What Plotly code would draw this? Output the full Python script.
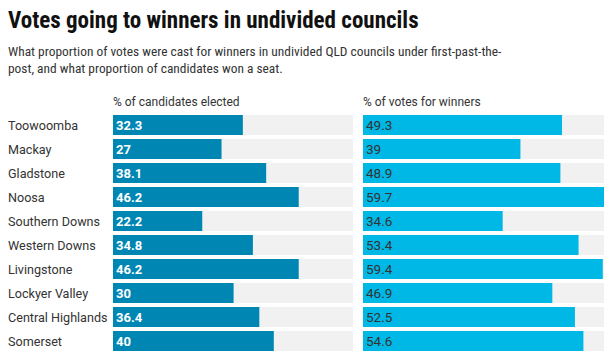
import plotly.graph_objects as go

councils = ["Toowoomba", "Mackay", "Gladstone", "Noosa", "Southern Downs",
            "Western Downs", "Livingstone", "Lockyer Valley", "Central Highlands", "Somerset"]
pct_candidates_elected = [32.3, 27, 38.1, 46.2, 22.2, 34.8, 46.2, 30, 36.4, 40]
pct_votes_for_winners = [49.3, 39, 48.9, 59.7, 34.6, 53.4, 59.4, 46.9, 52.5, 54.6]

W, H = 614, 358
scale_max = max(pct_candidates_elected + pct_votes_for_winners)
track = [scale_max] * len(councils)

LEFT_COL = "#0086b3"
RIGHT_COL = "#00b8e6"
TRACK_COL = "#f1f1f1"
FONT = "Roboto"
HEAD_FONT = "Roboto Condensed, Roboto"

fig = go.Figure()

def fmt(v):
    return f"{v:g}"

for xa, ya, vals, col, tcol, bold in [
    ("x", "y", pct_candidates_elected, LEFT_COL, "white", True),
    ("x2", "y2", pct_votes_for_winners, RIGHT_COL, "#333333", False),
]:
    fig.add_trace(go.Bar(y=councils, x=track, orientation="h", marker_color=TRACK_COL,
                         marker_line_width=0, xaxis=xa, yaxis=ya, hoverinfo="skip",
                         showlegend=False))
    fig.add_trace(go.Bar(y=councils, x=vals, orientation="h", marker_color=col,
                         marker_line_width=0, xaxis=xa, yaxis=ya,
                         text=[fmt(v) for v in vals], textposition="inside",
                         insidetextanchor="start", constraintext="none",
                         textangle=0,
                         textfont=dict(family=FONT, size=13.5 if not bold else 13,
                                       color=tcol, weight="bold" if bold else "normal"),
                         showlegend=False))

x1 = [113 / W, 353 / W]
x2 = [363 / W, 604 / W]
yd = [(H - 353) / H, (H - 113) / H]

fig.update_layout(
    width=W, height=H,
    margin=dict(l=0, r=0, t=0, b=0),
    paper_bgcolor="white", plot_bgcolor="white",
    barmode="overlay", bargap=4 / 24,
    font=dict(family=FONT, color="#333333"),
    xaxis=dict(domain=x1, range=[0, scale_max], visible=False, fixedrange=True),
    xaxis2=dict(domain=x2, range=[0, scale_max], visible=False, fixedrange=True),
    yaxis=dict(domain=yd, anchor="x", autorange="reversed", visible=False, type="category"),
    yaxis2=dict(domain=yd, anchor="x2", autorange="reversed", visible=False, type="category",
                matches="y"),
)

anns = []
for c in councils:
    anns.append(dict(xref="paper", yref="y", x=6 / W, y=c, text=c, showarrow=False,
                     xanchor="left", yanchor="middle",
                     font=dict(family=FONT, size=12.6, color="#333333")))

anns.append(dict(xref="paper", yref="paper", x=111 / W, y=(H - 102) / H,
                 text="% of candidates elected", showarrow=False, xanchor="left",
                 yanchor="middle", font=dict(family=FONT, size=12, color="#333333")))
anns.append(dict(xref="paper", yref="paper", x=361 / W, y=(H - 102) / H,
                 text="% of votes for winners", showarrow=False, xanchor="left",
                 yanchor="middle", font=dict(family=FONT, size=12, color="#333333")))

anns.append(dict(xref="paper", yref="paper", x=6 / W, y=(H - 20) / H,
                 text="<b>Votes going to winners in undivided councils</b>", showarrow=False,
                 xanchor="left", yanchor="middle",
                 font=dict(family=HEAD_FONT, size=23, color="#111111")))
anns.append(dict(xref="paper", yref="paper", x=6 / W, y=(H - 59.5) / H,
                 text="What proportion of votes were cast for winners in undivided QLD councils under first-past-the-<br>post, and what proportion of candidates won a seat.",
                 showarrow=False, xanchor="left", yanchor="middle", align="left",
                 font=dict(family=HEAD_FONT, size=13.4, color="#333333")))

fig.update_layout(annotations=anns)
fig.write_html("out.html", config={"displayModeBar": False},
               post_script="document.body.style.margin='0';document.body.style.padding='0';")
